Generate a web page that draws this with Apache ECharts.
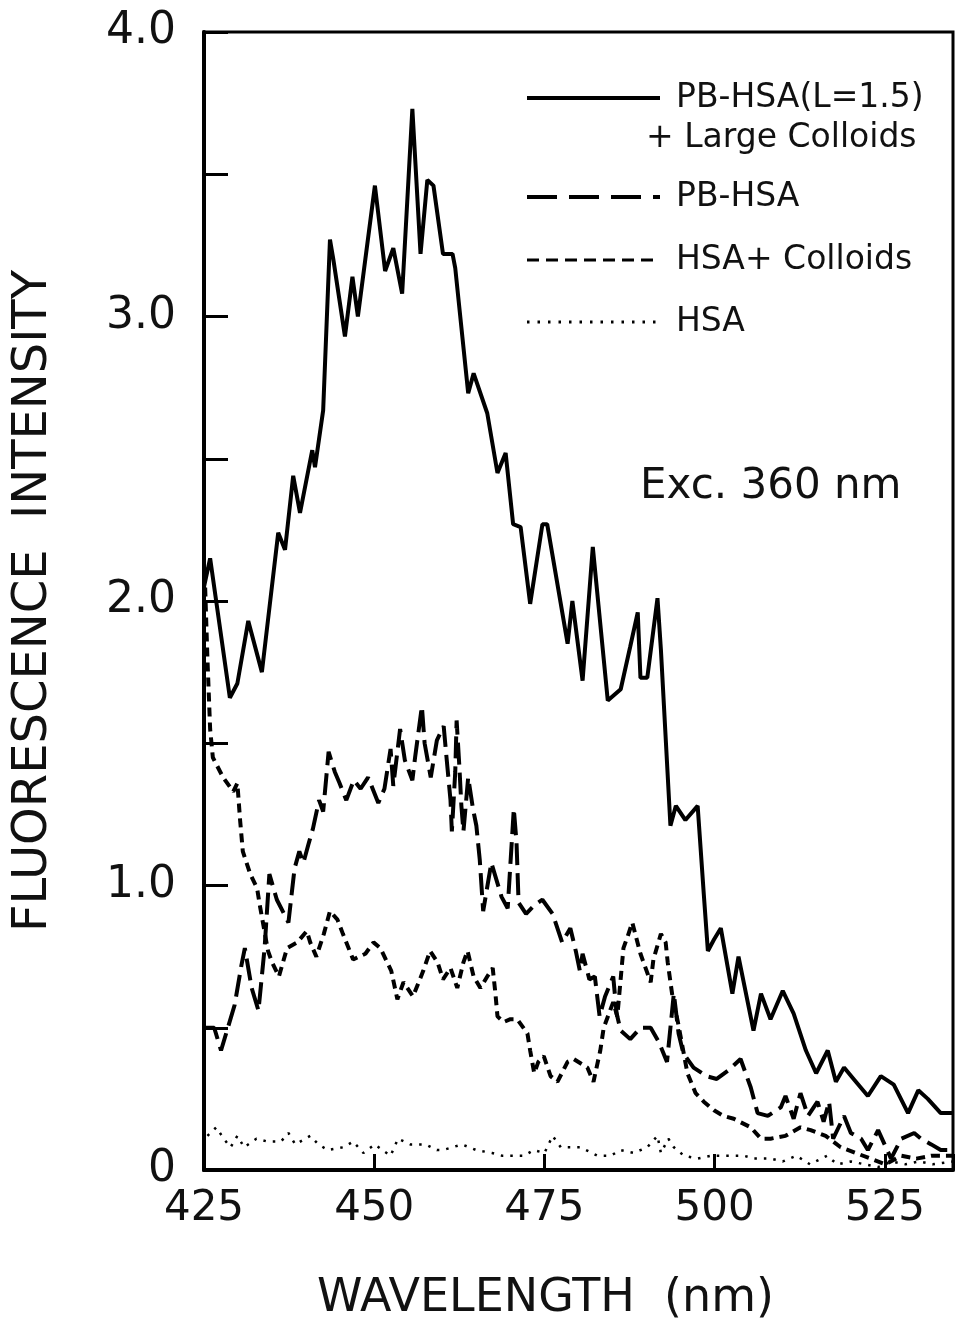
<!DOCTYPE html>
<html>
<head>
<meta charset="utf-8">
<script src="https://cdn.jsdelivr.net/npm/echarts@6/dist/echarts.min.js"></script>
<style>
  html, body { margin: 0; padding: 0; background: #fff; }
  #main { width: 956px; height: 1328px; }
</style>
</head>
<body>
<div id="main"></div>
<script>
// PB-HSA (L=1.5) + Large Colloids  (solid)
var solidWl = [425.0, 425.9, 428.8, 429.9, 431.5, 433.5, 435.9, 436.9, 438.1, 439.1, 440.9, 441.3, 442.5, 443.5, 444.0,
  445.7, 446.8, 447.6, 450.1, 451.6, 452.8, 454.1, 455.6, 456.8, 457.8, 458.7, 460.1, 461.5, 461.9, 463.8, 464.6,
  466.6, 468.1, 469.3, 470.4, 471.5, 472.9, 474.7, 475.4, 478.4, 479.1, 480.6, 482.1, 484.3, 486.2, 487.6, 488.7,
  489.1, 490.1, 491.6, 492.1, 493.5, 494.3, 495.7, 497.5, 498.4, 499.0, 499.9, 500.9, 502.6, 503.5, 505.7, 506.8,
  508.2, 510.0, 511.6, 513.4, 514.9, 516.6, 517.8, 519.0, 520.4, 522.5, 524.4, 526.3, 528.4, 529.9, 531.3, 533.2, 535.0];
var solidVal = [2.05, 2.15, 1.66, 1.71, 1.93, 1.75, 2.24, 2.18, 2.44, 2.31, 2.53, 2.47, 2.67, 3.27, 3.20,
  2.93, 3.14, 3.00, 3.46, 3.16, 3.24, 3.08, 3.73, 3.22, 3.48, 3.46, 3.22, 3.22, 3.17, 2.73, 2.80,
  2.66, 2.45, 2.52, 2.27, 2.26, 1.99, 2.27, 2.27, 1.85, 2.00, 1.72, 2.19, 1.65, 1.69, 1.84, 1.96,
  1.73, 1.73, 2.01, 1.83, 1.21, 1.28, 1.23, 1.28, 0.97, 0.77, 0.81, 0.85, 0.62, 0.75, 0.49, 0.62,
  0.53, 0.63, 0.55, 0.42, 0.34, 0.42, 0.31, 0.36, 0.32, 0.26, 0.33, 0.30, 0.20, 0.28, 0.25, 0.20, 0.20];

// PB-HSA  (long dashes)
var pbWl = [425.0, 426.5, 427.5, 428.5, 429.5, 430.5, 431.0, 432.0, 433.0, 433.9, 434.6, 435.7, 437.4, 438.3, 439.0,
  439.6, 440.4, 441.0, 441.9, 442.5, 443.3, 444.2, 444.9, 445.9, 447.0, 448.0, 449.1, 450.6, 451.5, 452.4, 452.8,
  453.8, 454.5, 455.6, 456.0, 457.0, 457.4, 458.3, 459.2, 460.2, 460.5, 461.2, 461.4, 461.9, 462.1, 462.5, 462.8,
  463.1, 463.8, 464.5, 465.0, 465.5, 466.0, 467.2, 468.7, 469.6, 470.5, 470.9, 471.2, 472.3, 473.5, 474.7, 476.2,
  477.6, 478.8, 479.6, 480.2, 480.6, 481.6, 482.4, 483.1, 483.9, 485.1, 485.6, 486.2, 487.6, 489.1, 490.6, 491.8,
  493.0, 494.0, 494.7, 495.4, 496.9, 498.8, 500.3, 502.0, 503.8, 505.3, 506.3, 507.8, 509.7, 510.4, 511.6, 512.6,
  513.7, 515.1, 516.0, 516.8, 517.4, 519.0, 520.0, 521.5, 522.5, 524.0, 525.9, 527.4, 529.3, 530.3, 531.8, 533.2, 535.0];
var pbVal = [0.50, 0.50, 0.42, 0.50, 0.58, 0.72, 0.78, 0.64, 0.56, 0.78, 1.04, 0.95, 0.87, 1.06, 1.12,
  1.08, 1.15, 1.20, 1.30, 1.26, 1.47, 1.40, 1.36, 1.30, 1.37, 1.34, 1.38, 1.29, 1.34, 1.48, 1.35,
  1.55, 1.44, 1.37, 1.45, 1.63, 1.50, 1.38, 1.51, 1.56, 1.48, 1.30, 1.19, 1.40, 1.58, 1.42, 1.28,
  1.19, 1.38, 1.27, 1.21, 1.09, 0.91, 1.08, 0.96, 0.92, 1.27, 1.15, 0.94, 0.90, 0.93, 0.95, 0.90,
  0.80, 0.85, 0.77, 0.70, 0.76, 0.67, 0.68, 0.54, 0.61, 0.68, 0.55, 0.49, 0.46, 0.50, 0.50, 0.45,
  0.38, 0.62, 0.48, 0.41, 0.36, 0.33, 0.32, 0.35, 0.39, 0.29, 0.20, 0.19, 0.22, 0.26, 0.18, 0.27,
  0.19, 0.24, 0.17, 0.24, 0.11, 0.19, 0.13, 0.11, 0.07, 0.14, 0.04, 0.11, 0.13, 0.11, 0.09, 0.07, 0.07];

// HSA + Colloids  (short dashes)
var colWl = [425.1, 425.5, 425.9, 426.3, 427.8, 429.3, 429.9, 430.3, 430.7, 431.8, 432.8, 433.2, 433.8, 434.4, 435.0,
  436.0, 437.2, 438.7, 440.1, 440.6, 441.5, 442.6, 443.5, 444.6, 445.4, 446.9, 448.7, 449.9, 450.9, 451.5, 452.5,
  453.4, 454.3, 455.7, 457.2, 458.2, 459.3, 460.1, 461.2, 462.2, 463.1, 463.7, 464.6, 465.6, 466.6, 467.4, 467.8,
  468.1, 469.0, 470.0, 471.0, 472.5, 472.9, 473.5, 474.1, 474.9, 475.9, 476.9, 478.4, 479.3, 481.3, 482.2, 483.2,
  483.7, 485.1, 485.7, 486.6, 487.2, 487.9, 489.1, 490.6, 491.0, 492.1, 492.8, 493.1, 493.8, 494.6, 496.0, 497.2,
  498.4, 499.9, 501.3, 502.8, 505.3, 506.8, 508.2, 510.4, 512.6, 514.1, 516.3, 518.5, 520.7, 522.9, 525.1, 527.4,
  529.6, 531.8, 535.0];
var colVal = [2.10, 1.80, 1.55, 1.45, 1.38, 1.33, 1.36, 1.23, 1.12, 1.04, 0.99, 0.93, 0.85, 0.77, 0.73,
  0.68, 0.78, 0.80, 0.84, 0.80, 0.75, 0.83, 0.91, 0.88, 0.83, 0.74, 0.76, 0.80, 0.78, 0.75, 0.70,
  0.60, 0.66, 0.61, 0.70, 0.77, 0.73, 0.67, 0.71, 0.64, 0.73, 0.77, 0.68, 0.64, 0.68, 0.71, 0.62,
  0.54, 0.52, 0.53, 0.53, 0.48, 0.42, 0.34, 0.38, 0.40, 0.33, 0.31, 0.38, 0.39, 0.36, 0.31, 0.42,
  0.50, 0.59, 0.54, 0.78, 0.82, 0.87, 0.76, 0.66, 0.74, 0.83, 0.80, 0.73, 0.61, 0.52, 0.34, 0.27,
  0.24, 0.21, 0.19, 0.18, 0.15, 0.11, 0.11, 0.12, 0.15, 0.14, 0.12, 0.08, 0.06, 0.04, 0.02, 0.05,
  0.04, 0.05, 0.05];

// HSA  (dotted)
var hsaWl = [425.5, 426.8, 427.9, 428.9, 429.9, 430.9, 432.7, 434.3, 436.3, 437.4, 438.4, 440.6, 441.8, 443.2, 445.5,
  446.9, 448.4, 450.1, 451.2, 452.4, 453.5, 455.3, 457.5, 459.2, 460.1, 462.9, 465.0, 467.3, 468.8, 470.5, 472.0,
  473.4, 475.0, 476.2, 477.4, 480.3, 482.8, 484.7, 486.2, 488.1, 490.1, 491.6, 492.1, 493.2, 494.0, 495.5, 497.5,
  499.4, 501.9, 504.3, 505.8, 508.2, 510.0, 512.0, 514.0, 516.5, 518.0, 520.0, 522.0, 524.0, 526.0, 528.0, 530.0,
  532.0, 535.0];
var hsaVal = [0.12, 0.15, 0.11, 0.08, 0.12, 0.08, 0.11, 0.10, 0.10, 0.13, 0.09, 0.12, 0.09, 0.07, 0.08,
  0.10, 0.06, 0.09, 0.07, 0.05, 0.11, 0.09, 0.09, 0.07, 0.07, 0.09, 0.07, 0.06, 0.05, 0.05, 0.05,
  0.07, 0.06, 0.12, 0.08, 0.08, 0.05, 0.05, 0.07, 0.06, 0.08, 0.12, 0.06, 0.11, 0.08, 0.05, 0.04,
  0.05, 0.05, 0.05, 0.04, 0.04, 0.03, 0.05, 0.02, 0.05, 0.02, 0.03, 0.02, 0.01, 0.03, 0.02, 0.03,
  0.02, 0.03];

var xTicks = [425, 450, 475, 500, 525];
var yLabels = ['0', '1.0', '2.0', '3.0', '4.0'];

function pairs(xs, ys) {
  var out = [];
  for (var i = 0; i < xs.length; i++) out.push([xs[i], ys[i]]);
  return out;
}

var FONT = 'DejaVu Sans';
var myChart = echarts.init(document.getElementById('main'));

var legendX1 = 527, legendX2 = 660;
function legendLine(y, dash, width) {
  return {
    type: 'line',
    shape: { x1: legendX1, y1: y, x2: legendX2, y2: y },
    style: { stroke: '#000', lineWidth: width, lineDash: dash }
  };
}
function label(x, y, text, size) {
  return {
    type: 'text', x: x, y: y,
    style: { text: text, fill: '#111', font: size + 'px "' + FONT + '"', verticalAlign: 'middle' }
  };
}

var option = {
  animation: false,
  backgroundColor: '#fff',
  grid: {
    left: 204, right: 3, top: 32, bottom: 158,
    show: true, borderColor: '#000', borderWidth: 3
  },
  xAxis: {
    type: 'value',
    min: 425, max: 535, interval: 25,
    name: 'WAVELENGTH  (nm)',
    nameLocation: 'middle',
    nameGap: 106,
    nameTextStyle: { fontSize: 46, fontFamily: FONT, color: '#111', padding: [0, 66, 0, 0] },
    axisLine: { lineStyle: { color: '#000', width: 4 } },
    axisTick: { inside: true, length: 16, lineStyle: { color: '#000', width: 3 } },
    axisLabel: {
      fontSize: 42, fontFamily: FONT, color: '#111', margin: 18,
      formatter: function (v) { return xTicks.indexOf(v) >= 0 ? String(v) : ''; }
    },
    splitLine: { show: false }
  },
  yAxis: {
    type: 'value',
    min: 0, max: 4, interval: 0.5,
    name: 'FLUORESCENCE  INTENSITY',
    nameLocation: 'middle',
    nameRotate: 90,
    nameGap: 146,
    nameTextStyle: { fontSize: 48, fontFamily: FONT, color: '#111' },
    axisLine: { lineStyle: { color: '#000', width: 4 } },
    axisTick: { inside: true, length: 24, lineStyle: { color: '#000', width: 3 } },
    axisLabel: {
      fontSize: 44, fontFamily: FONT, color: '#111', margin: 28,
      formatter: function (v) { return v % 1 === 0 ? yLabels[v] : ''; }
    },
    splitLine: { show: false }
  },
  series: [
    {
      name: 'PB-HSA(L=1.5) + Large Colloids', type: 'line', showSymbol: false,
      data: pairs(solidWl, solidVal),
      lineStyle: { color: '#000', width: 4, type: 'solid' }
    },
    {
      name: 'PB-HSA', type: 'line', showSymbol: false,
      data: pairs(pbWl, pbVal),
      lineStyle: { color: '#000', width: 4, type: [22, 8] }
    },
    {
      name: 'HSA+ Colloids', type: 'line', showSymbol: false,
      data: pairs(colWl, colVal),
      lineStyle: { color: '#000', width: 4, type: [9, 6] }
    },
    {
      name: 'HSA', type: 'line', showSymbol: false,
      data: pairs(hsaWl, hsaVal),
      lineStyle: { color: '#000', width: 2.5, type: [2.5, 7] }
    }
  ],
  graphic: [
    legendLine(98, null, 4),
    label(676, 98, 'PB-HSA(L=1.5)', 33),
    label(646, 138, '+ Large Colloids', 33),
    legendLine(197, [30, 12], 4),
    label(676, 197, 'PB-HSA', 33),
    legendLine(260, [12, 7], 3),
    label(676, 260, 'HSA+ Colloids', 33),
    legendLine(322, [2.5, 8], 3),
    label(676, 322, 'HSA', 33),
    label(640, 487, 'Exc. 360 nm', 42)
  ]
};
myChart.setOption(option);
</script>
</body>
</html>
